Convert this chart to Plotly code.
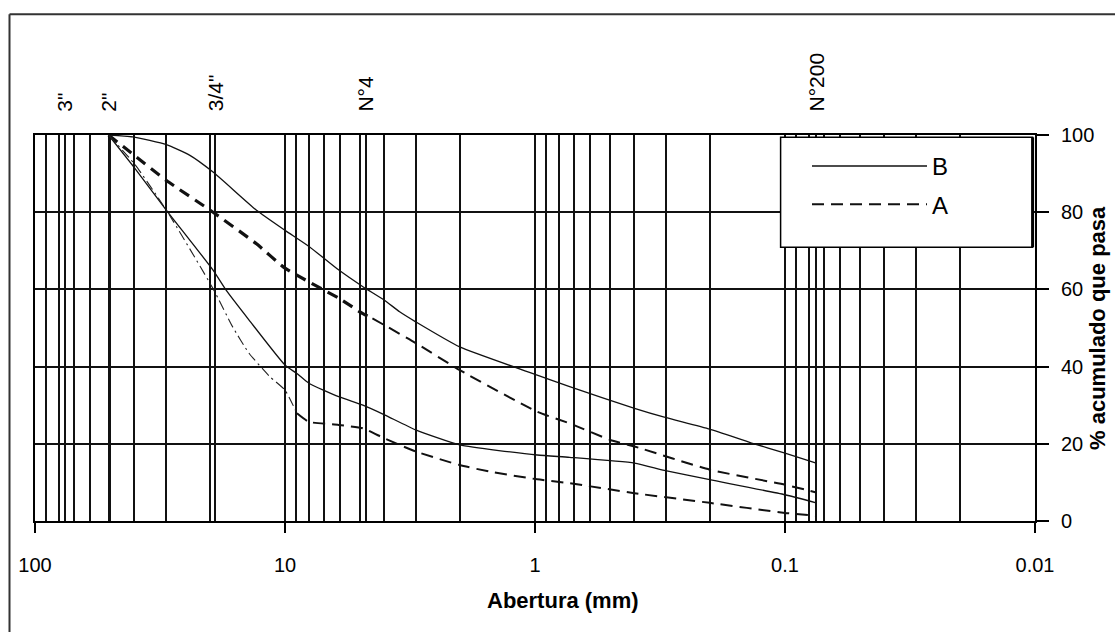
import numpy as np
import plotly.graph_objects as go

# ---------------- data ----------------
# Curve B (solid) - upper and lower limits
b_upper_mm = [50.8, 40.6, 29.8, 24.1, 19.4, 13.0, 10.0, 7.97, 6.09, 4.88, 4.0, 3.48, 3.0, 2.0, 0.98, 0.727, 0.40, 0.304, 0.20, 0.136, 0.10, 0.075]
b_upper_pct = [100, 99.5, 97.5, 94.8, 90.4, 80.5, 75.3, 71.0, 65.0, 60.7, 57.2, 54.2, 51.6, 45.1, 37.8, 34.8, 29.2, 26.9, 23.8, 20.2, 17.6, 15.0]

b_lower_mm = [50.8, 40.0, 29.8, 19.4, 17.2, 13.9, 10.0, 8.96, 8.03, 6.1, 4.88, 4.0, 3.0, 2.0, 0.98, 0.727, 0.40, 0.304, 0.20, 0.10, 0.075]
b_lower_pct = [100, 91.5, 80.5, 65.0, 59.8, 52.0, 40.4, 38.2, 35.7, 32.2, 30.0, 27.5, 23.6, 19.7, 17.1, 16.5, 15.0, 13.1, 10.7, 6.8, 4.7]

# Curve A (dashed) - upper and lower limits
a_upper_mm = [50.8, 40.0, 29.8, 19.4, 13.0, 10.0, 6.05, 4.88, 4.47, 3.0, 2.0, 0.98, 0.727, 0.50, 0.40, 0.20, 0.10, 0.075]
a_upper_pct = [100, 94.7, 88.2, 80.0, 71.8, 65.5, 57.6, 53.7, 52.5, 46.1, 39.1, 28.3, 25.3, 21.0, 19.3, 13.3, 9.4, 7.4]

a_lower_mm = [50.8, 40.0, 29.8, 19.4, 16.2, 13.9, 11.5, 10.0, 8.96, 8.03, 6.1, 4.88, 4.0, 3.0, 2.0, 1.52, 0.98, 0.727, 0.40, 0.20, 0.10, 0.075]
a_lower_pct = [100, 92.5, 80.5, 60.2, 50.3, 43.4, 37.4, 33.9, 27.9, 25.7, 24.9, 24.0, 21.4, 18.0, 14.5, 12.8, 10.8, 9.8, 7.2, 4.7, 2.1, 1.4]

# Axis ticks / labels
x_tick_vals = [100, 10, 1, 0.1, 0.01]
x_tick_text = ["100", "10", "1", "0.1", "0.01"]
y_tick_vals = [0, 20, 40, 60, 80, 100]
y_tick_text = ["0", "20", "40", "60", "80", "100"]

# Sieve designations (top labels) and their openings (mm)
sieve_names = ['3"', '2"', '3/4"', 'N°4', 'N°200']
sieve_mm = [76.2, 50.8, 19.05, 4.75, 0.075]

# Log grid multiples per decade
grid_decades = [10, 1, 0.1, 0.01]
grid_multiples = [1, 2, 3, 4, 5, 6, 7, 8, 9]

# ---------------- figure ----------------
FONT = "Liberation Sans, Arial, sans-serif"
grid_vals = sorted(set([m * d for d in grid_decades for m in grid_multiples] + [100] + sieve_mm))

# index where the heavier dash portions change
a_up_split = a_upper_mm.index(4.47)
a_lo_split = a_lower_mm.index(8.96)

fig = go.Figure()
line_shape = dict(shape="spline", smoothing=0.5)

fig.add_trace(go.Scatter(x=b_upper_mm, y=b_upper_pct, mode="lines", name="B", legendgroup="B",
                         line=dict(color="#111", width=1.3, **line_shape)))
fig.add_trace(go.Scatter(x=b_lower_mm, y=b_lower_pct, mode="lines", name="B", legendgroup="B", showlegend=False,
                         line=dict(color="#111", width=1.3, **line_shape)))
# A upper: heavy dashed first part, then normal dashes
fig.add_trace(go.Scatter(x=a_upper_mm[:a_up_split + 1], y=a_upper_pct[:a_up_split + 1], mode="lines",
                         name="A", legendgroup="A", showlegend=False,
                         line=dict(color="#111", width=3.2, dash="11px,7px", **line_shape)))
fig.add_trace(go.Scatter(x=a_upper_mm[a_up_split:], y=a_upper_pct[a_up_split:], mode="lines",
                         name="A", legendgroup="A", showlegend=True,
                         line=dict(color="#111", width=2, dash="12px,7px", **line_shape)))
# A lower: thin dashed first part, then normal dashes
fig.add_trace(go.Scatter(x=a_lower_mm[:a_lo_split + 1], y=a_lower_pct[:a_lo_split + 1], mode="lines",
                         name="A", legendgroup="A", showlegend=False,
                         line=dict(color="#222", width=1.1, dash="10px,4px,2px,4px", **line_shape)))
fig.add_trace(go.Scatter(x=a_lower_mm[a_lo_split:], y=a_lower_pct[a_lo_split:], mode="lines",
                         name="A", legendgroup="A", showlegend=False,
                         line=dict(color="#111", width=2, dash="12px,7px", **line_shape)))
# empty trace to activate the decade tick axis
fig.add_trace(go.Scatter(x=[], y=[], xaxis="x2", showlegend=False, hoverinfo="skip"))

annotations = []
for name, mm in zip(sieve_names, sieve_mm):
    annotations.append(dict(x=np.log10(mm), y=1.055, xref="x", yref="paper", text=name,
                            textangle=-90, showarrow=False, xanchor="center", yanchor="bottom",
                            font=dict(family=FONT, size=21, color="#000")))
annotations.append(dict(x=0.528, y=-0.205, xref="paper", yref="paper", text="<b>Abertura (mm)</b>",
                        showarrow=False, xanchor="center", yanchor="middle",
                        font=dict(family=FONT, size=22, color="#000")))
annotations.append(dict(x=1.062, y=0.5, xref="paper", yref="paper", text="<b>% acumulado que pasa</b>",
                        textangle=-90, showarrow=False, xanchor="center", yanchor="middle",
                        font=dict(family=FONT, size=22, color="#000")))

shapes = [
    # legend box
    dict(type="rect", xref="paper", yref="paper", x0=0.7456, x1=0.9976, y0=0.7095, y1=0.994,
         fillcolor="white", line=dict(color="#000", width=1.5), layer="above"),
    dict(type="line", xref="paper", yref="paper", x0=0.9976, x1=0.9976, y0=0.7095, y1=0.994,
         line=dict(color="#000", width=3), layer="above"),
    # outer frame (left and top edges visible)
    dict(type="line", xref="paper", yref="paper", x0=-0.0255, x1=-0.0255, y0=-0.35, y1=1.313,
         line=dict(color="#333", width=2)),
    dict(type="line", xref="paper", yref="paper", x0=-0.0255, x1=1.1, y0=1.313, y1=1.313,
         line=dict(color="#333", width=2)),
]

fig.update_layout(
    width=1115, height=632,
    margin=dict(l=35, r=80, t=135, b=111),
    paper_bgcolor="white", plot_bgcolor="white",
    font=dict(family=FONT, size=20, color="#000"),
    showlegend=True,
    legend=dict(x=0.772, y=0.977, xanchor="left", yanchor="top", bgcolor="rgba(0,0,0,0)",
                borderwidth=0, font=dict(family=FONT, size=24, color="#000"),
                itemwidth=115, tracegroupgap=4, traceorder="grouped"),
    xaxis=dict(type="log", range=[2, -2], tickvals=grid_vals, showticklabels=False, ticks="",
               showgrid=True, gridcolor="#111", gridwidth=1.5, showline=True, mirror=True,
               linecolor="#000", linewidth=2, zeroline=False, fixedrange=True),
    xaxis2=dict(type="log", range=[2, -2], overlaying="x", anchor="y", side="bottom",
                tickvals=x_tick_vals, ticktext=x_tick_text, ticks="outside", ticklen=11,
                tickwidth=2, tickcolor="#000", showgrid=False, showline=False, zeroline=False,
                tickfont=dict(family=FONT, size=20, color="#000"), ticklabelstandoff=15),
    yaxis=dict(range=[0, 100], side="right", tickvals=y_tick_vals, ticktext=y_tick_text,
               ticks="outside", ticklen=12, tickwidth=2, tickcolor="#000",
               showgrid=True, gridcolor="#111", gridwidth=1.5, showline=True, mirror=True,
               linecolor="#000", linewidth=2, zeroline=False,
               tickfont=dict(family=FONT, size=20, color="#000"), ticklabelstandoff=8),
    annotations=annotations,
    shapes=shapes,
)

fig.write_html("out.html", config={"displayModeBar": False},
               post_script="document.body.style.margin='0';document.body.style.overflow='hidden';")
